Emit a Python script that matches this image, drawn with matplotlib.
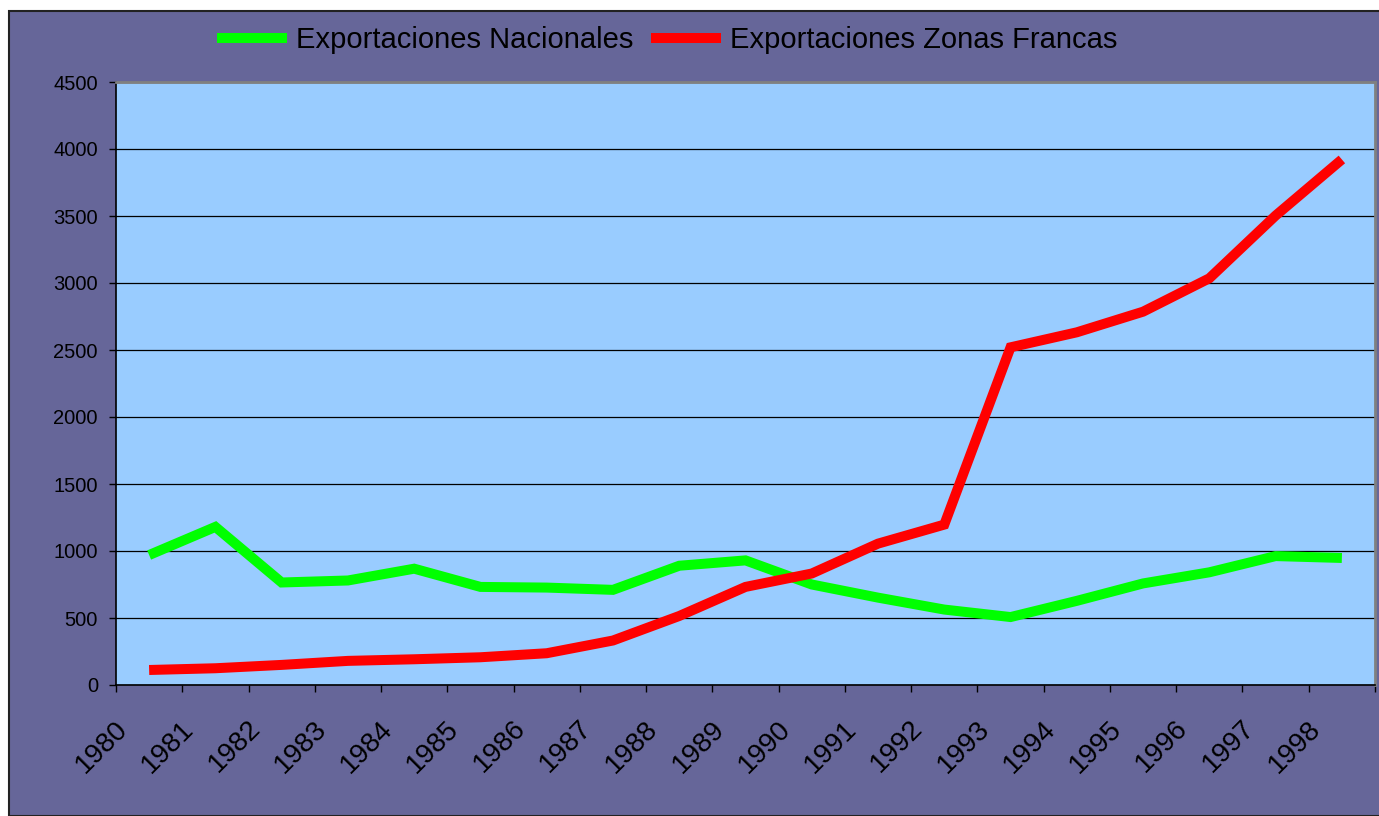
import numpy as np
import matplotlib
matplotlib.use("Agg")
import matplotlib.pyplot as plt
import matplotlib.transforms as mtransforms
from matplotlib.patches import Rectangle

plt.rcParams['font.family'] = ['Liberation Sans', 'DejaVu Sans']

years = [str(y) for y in range(1980, 1999)]
nacionales = [970, 1180, 765, 780, 868, 732, 727, 710, 890,
              930, 750, 652, 563, 507, 628, 758, 841, 962, 948]
zonas_francas = [112, 125, 150, 180, 192, 207, 237, 332, 515,
                 732, 832, 1055, 1197, 2520, 2632, 2786, 3035, 3503, 3922]

W, H = 1379, 816
fig = plt.figure(figsize=(W / 100, H / 100), dpi=100, facecolor='white')

# purple chart area with dark border, white strip at top/left
bg = Rectangle((9 / W, 0), 1 - 9 / W + 0.01, 1 - 11 / H, transform=fig.transFigure,
               facecolor='#666699', edgecolor='#222222', linewidth=1.5, zorder=-10)
fig.patches.append(bg)

ax = fig.add_axes([116 / W, 1 - 685 / H, (1375 - 116) / W, (685 - 82) / H])
ax.set_facecolor('#99CCFF')

x = np.arange(len(years))
ax.plot(x, nacionales, color='#00FF00', lw=7.2, solid_joinstyle='miter',
        solid_capstyle='butt', label='Exportaciones Nacionales', zorder=3)
ax.plot(x, zonas_francas, color='#FF0000', lw=7.2, solid_joinstyle='miter',
        solid_capstyle='butt', label='Exportaciones Zonas Francas', zorder=3)

ax.set_xlim(-0.5, len(years) - 0.5)
ax.set_ylim(0, 4500)
ax.set_yticks(np.arange(0, 4501, 500))
ax.yaxis.grid(True, color='black', lw=0.9)
ax.set_axisbelow(True)

# category boundaries as major ticks, labels on minor ticks at centres
ax.set_xticks(np.arange(-0.5, len(years), 1.0))
ax.set_xticklabels([])
ax.set_xticks(x, minor=True)
ax.tick_params(axis='x', which='major', direction='out', length=5, width=1, color='black')
ax.tick_params(axis='x', which='minor', length=0, pad=22, labelsize=20)
ax.tick_params(axis='y', direction='out', length=5, width=1, color='black',
               labelsize=14.5, pad=8)
ax.set_xticklabels(years, minor=True, rotation=45, ha='right', va='top', fontsize=20)
offset = mtransforms.ScaledTranslation(-16 / 100, 0, fig.dpi_scale_trans)
for lbl in ax.get_xticklabels(minor=True):
    lbl.set_transform(lbl.get_transform() + offset)

for side in ['left', 'bottom']:
    ax.spines[side].set_color('black')
    ax.spines[side].set_linewidth(1.2)
for side in ['top', 'right']:
    ax.spines[side].set_color('#808080')
    ax.spines[side].set_linewidth(2)

fig.legend(loc='center', bbox_to_anchor=(667 / W, 1 - 40 / H), ncol=2, frameon=False,
           fontsize=21, handlelength=2.4, handletextpad=0.3, columnspacing=0.6)

fig.savefig('out.png', dpi=100, facecolor=fig.get_facecolor())
